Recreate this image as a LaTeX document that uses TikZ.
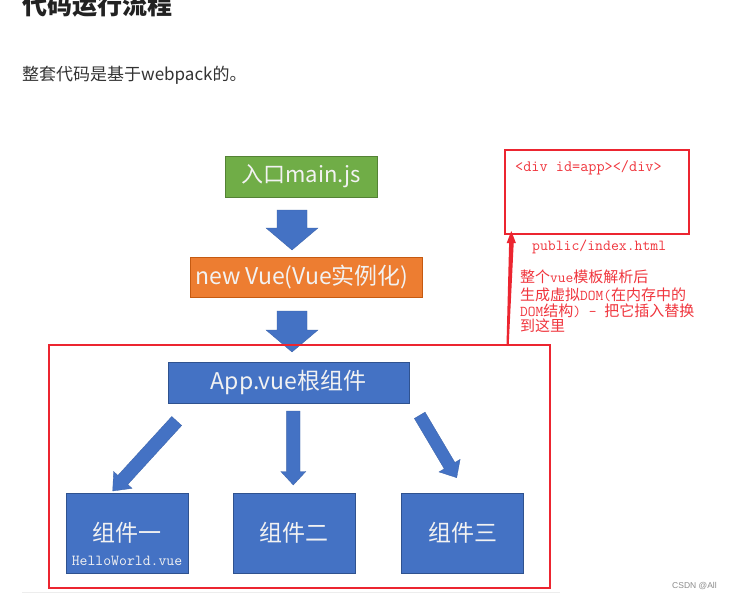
\documentclass[tikz,border=0pt]{standalone}
\usepackage{fontspec}
\setmainfont{Noto Sans CJK SC}
\newfontfamily\wmfont{Liberation Sans}
\usetikzlibrary{calc}
\definecolor{boxgreen}{HTML}{70AD47}
\definecolor{boxgreenline}{HTML}{548235}
\definecolor{boxorange}{HTML}{ED7D31}
\definecolor{boxorangeline}{HTML}{C55A11}
\definecolor{boxblue}{HTML}{4472C4}
\definecolor{boxblueline}{HTML}{2F528F}
\definecolor{annred}{HTML}{EC2530}
\definecolor{anntext}{HTML}{F0353D}
\definecolor{titlecol}{HTML}{222222}
\definecolor{subcol}{HTML}{333333}
\tikzset{
  flowbox/.style={draw, line width=0.8pt, text=white!95!black, inner sep=0pt,
    font=\fontsize{22}{22}\selectfont},
  compbox/.style={flowbox, fill=boxblue, draw=boxblueline, minimum width=122pt,
    minimum height=80pt, font=\fontsize{23}{23}\selectfont},
  arrowfill/.style={fill=boxblue, draw=boxblue!85!black, line width=0.3pt},
  redtext/.style={text=anntext, inner sep=0pt, anchor=base west},
}
% #1 tail, #2 tip, #3 shaft half width, #4 head half width, #5 head length
\newcommand\blockarrow[5]{%
  \coordinate (hb) at ($(#2)!#5!(#1)$);
  \filldraw[arrowfill] ($(#1)!#3!90:(#2)$) -- ($(hb)!#3!-90:(#1)$)
    -- ($(hb)!#4!-90:(#1)$) -- (#2) -- ($(hb)!#4!90:(#1)$)
    -- ($(hb)!#3!90:(#1)$) -- ($(#1)!#3!-90:(#2)$) -- cycle;
}
\begin{document}
\begin{tikzpicture}[x=1pt,y=-1pt]
\useasboundingbox (0,0) rectangle (730,599);
\fill[white] (0,0) rectangle (730,599);

% heading texts
\node (title) [anchor=base west, inner sep=0pt, text=titlecol,
  font=\bfseries\fontsize{25}{25}\selectfont] at (22,15) {代码运行流程};
\node (sub) [anchor=base west, inner sep=0pt, text=subcol,
  font=\fontsize{17}{17}\selectfont] at (22,81) {整套代码是基于webpack的。};

% main flow boxes
\node (main) [flowbox, fill=boxgreen, draw=boxgreenline,
  minimum width=152pt, minimum height=41pt] at (301,176.5) {入口main.js};
\node (vue) [flowbox, fill=boxorange, draw=boxorangeline,
  minimum width=232pt, minimum height=40pt] at (306,277) {};
\node (vuet) [inner sep=0pt, text=white!95!black, font=\fontsize{23}{23}\selectfont]
  at ($(vue.center)+(-4,0)$) {new Vue(Vue实例化)};

% big block arrows
\coordinate (a1t) at (292,210);
\coordinate (a1p) at (292,250);
\blockarrow{a1t}{a1p}{15pt}{26pt}{22pt}
\coordinate (a2t) at (292,311);
\coordinate (a2p) at (292,352);
\blockarrow{a2t}{a2p}{15pt}{26pt}{22pt}

\node (app) [flowbox, fill=boxblue, draw=boxblueline,
  minimum width=241pt, minimum height=41pt, font=\fontsize{23}{23}\selectfont]
  at (288.5,382.5) {App.vue根组件};

% component arrows
\coordinate (l1t) at (176.7,421);
\coordinate (l1p) at (112.7,491);
\blockarrow{l1t}{l1p}{6.7pt}{12.5pt}{15pt}
\coordinate (l2t) at (293.3,411);
\coordinate (l2p) at (293.3,485);
\blockarrow{l2t}{l2p}{6.7pt}{12.5pt}{13.5pt}
\coordinate (l3t) at (419.7,415.3);
\coordinate (l3p) at (456.7,477.7);
\blockarrow{l3t}{l3p}{6.2pt}{12.3pt}{14pt}

% components
\node (c1) [compbox] at (127,533) {组件一};
\node (c1f) [inner sep=0pt, text=white!95!black, font=\ttfamily\fontsize{15.3}{15.3}\selectfont]
  at (127,561) {HelloWorld.vue};
\node (c2) [compbox] at (294,533) {组件二};
\node (c3) [compbox] at (462.5,533) {组件三};

% red frame around components
\node (frame) [draw=annred, line width=1.3pt, inner sep=0pt,
  minimum width=501pt, minimum height=243pt] at (299.5,466.5) {};

% index.html box
\node (html) [draw=annred, line width=1.6pt, inner sep=0pt,
  minimum width=184pt, minimum height=84pt] at (597,192) {};
\node (div) [redtext, font=\ttfamily\fontsize{15.8}{15.8}\selectfont] at (515,171) {<div id=app></div>};
\node (pub) [redtext, font=\ttfamily\fontsize{15.3}{15.3}\selectfont] at (532,250.5) {public/index.html};

% red arrow from frame up to html box
\coordinate (rs) at (507.5,345);
\coordinate (re) at (511.3,231);
\fill[annred] ($(rs)+(-1,0)$) -- ($(rs)+(1.2,0)$) -- ($(re)+(2.4,12)$)
  -- ($(re)+(4.6,12)$) -- (re) -- ($(re)+(-4.6,12)$) -- ($(re)+(-2.2,12)$) -- cycle;

% annotation
\node (n1) [redtext, font=\fontsize{15}{15}\selectfont] at (520,282.5) {整个{\ttfamily vue}模板解析后};
\node (n2) [redtext, font=\fontsize{15}{15}\selectfont] at (520,300) {生成虚拟{\ttfamily DOM(}在内存中的};
\node (n3) [redtext, font=\fontsize{15}{15}\selectfont] at (520,316.5) {{\ttfamily DOM}结构{\ttfamily) - }把它插入替换};
\node (n4) [redtext, font=\fontsize{15}{15}\selectfont] at (520,331.5) {到这里};

% bottom rule and watermark
\draw[black!7, line width=1pt] (22,592) -- (560,592);
\node (wm) [anchor=base west, inner sep=0pt, text=black!45, font=\wmfont\fontsize{8.5}{8.5}\selectfont]
  at (672,588) {CSDN @All};
\end{tikzpicture}
\end{document}
